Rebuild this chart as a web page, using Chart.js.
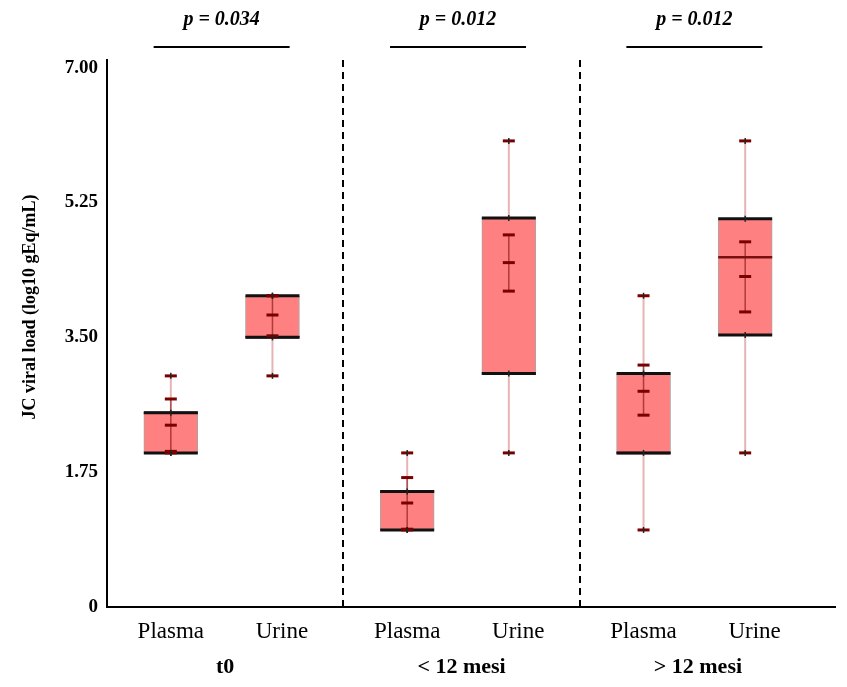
<!DOCTYPE html>
<html>
<head>
<meta charset="utf-8">
<script src="https://cdn.jsdelivr.net/npm/chart.js@4.4.1/dist/chart.umd.min.js"></script>
<style>
  html, body { margin: 0; padding: 0; background: #fff; }
</style>
</head>
<body>
<canvas id="boxChart" width="847" height="687"></canvas>
<script>
// Data (log10 gEq/mL)
const groups = ['t0', '< 12 mesi', '> 12 mesi'];
const sampleTypes = ['Plasma', 'Urine'];
const pValues = ['p = 0.034', 'p = 0.012', 'p = 0.012'];
const yTicks = [0, 1.75, 3.5, 5.25, 7];

// order: t0 Plasma, t0 Urine, <12 Plasma, <12 Urine, >12 Plasma, >12 Urine
const mins    = [2.00, 3.00, 1.00, 2.00, 1.00, 2.00];
const q1s     = [2.00, 3.50, 1.00, 3.03, 2.00, 3.53];
const medians = [2.52, 3.50, 1.50, 3.03, 2.00, 4.54];
const q3s     = [2.52, 4.04, 1.50, 5.05, 3.03, 5.04];
const maxs    = [3.00, 4.04, 2.00, 6.05, 4.04, 6.05];
const means   = [2.36, 3.79, 1.35, 4.47, 2.80, 4.29];
const ciLow   = [2.02, 3.52, 1.01, 4.10, 2.49, 3.83];
const ciHigh  = [2.70, 4.04, 1.68, 4.83, 3.14, 4.74];

// layout: each group takes one unit on the x scale
const boxOffset = [0.27, 0.70];
const labelOffset = [0.27, 0.74];
const xPos = mins.map((_, i) => Math.floor(i / 2) + boxOffset[i % 2]);

const serif = '"Liberation Serif", "Times New Roman", serif';

function pts(arrs) {
  const out = [];
  xPos.forEach((x, i) => arrs.forEach(a => out.push({ x, y: a[i] })));
  return out;
}
function segs(lo, hi) {
  const out = [];
  xPos.forEach((x, i) => { out.push({ x, y: lo[i] }, { x, y: hi[i] }, { x, y: null }); });
  return out;
}

const whiskerData = [];
xPos.forEach((x, i) => {
  whiskerData.push({ x, y: mins[i] }, { x, y: q1s[i] }, { x, y: null });
  whiskerData.push({ x, y: q3s[i] }, { x, y: maxs[i] }, { x, y: null });
});

// extras: p-value brackets, dashed separators, y title
const extrasPlugin = {
  id: 'extras',
  afterDatasetsDraw(chart) {
    const { ctx, chartArea, scales: { x, y } } = chart;
    ctx.save();
    // dashed separators between groups
    ctx.strokeStyle = '#000';
    ctx.lineWidth = 2;
    ctx.setLineDash([7, 5]);
    [1, 2].forEach(v => {
      const px = Math.round(x.getPixelForValue(v));
      ctx.beginPath();
      ctx.moveTo(px, chartArea.top);
      ctx.lineTo(px, chartArea.bottom);
      ctx.stroke();
    });
    ctx.setLineDash([]);
    // p values
    ctx.fillStyle = '#000';
    ctx.textAlign = 'center';
    ctx.textBaseline = 'middle';
    ctx.font = 'italic bold 20px ' + serif;
    pValues.forEach((p, g) => {
      const cx = x.getPixelForValue(g + 0.485);
      ctx.fillText(p, cx, 20);
      ctx.beginPath();
      ctx.lineWidth = 2;
      ctx.moveTo(cx - 68, 47);
      ctx.lineTo(cx + 68, 47);
      ctx.stroke();
    });
    // y axis title
    ctx.translate(30, 307);
    ctx.rotate(-Math.PI / 2);
    ctx.font = 'bold 18px ' + serif;
    ctx.fillText('JC viral load (log10 gEq/mL)', 0, 0);
    ctx.restore();
  }
};

new Chart(document.getElementById('boxChart'), {
  type: 'bar',
  data: {
    datasets: [
      {
        type: 'bar',
        data: xPos.map((x, i) => ({ x, y: [q1s[i], q3s[i]] })),
        backgroundColor: '#ff8080',
        borderColor: 'rgba(0,0,0,0.35)',
        borderWidth: { left: 1, right: 1, top: 0, bottom: 0 },
        borderSkipped: false,
        barThickness: 54,
        order: 10
      },
      {
        type: 'scatter',
        data: whiskerData,
        showLine: true,
        spanGaps: false,
        borderColor: 'rgba(190,70,70,0.4)',
        borderWidth: 2,
        pointRadius: 0,
        order: 9
      },
      {
        type: 'scatter',
        data: segs(ciLow, ciHigh),
        showLine: true,
        spanGaps: false,
        borderColor: 'rgba(110,0,0,0.55)',
        borderWidth: 1.5,
        pointRadius: 0,
        order: 8
      },
      {
        type: 'scatter',
        data: pts([medians]),
        pointStyle: 'line',
        pointRadius: 27,
        pointBorderWidth: 2.5,
        pointBorderColor: '#7a1010',
        order: 6
      },
      {
        type: 'scatter',
        data: pts([q1s, q3s]),
        pointStyle: 'line',
        pointRadius: 27,
        pointBorderWidth: 3,
        pointBorderColor: '#111',
        order: 5
      },
      {
        type: 'scatter',
        data: pts([mins, maxs, means, ciLow, ciHigh]),
        pointStyle: 'line',
        pointRadius: 6,
        pointBorderWidth: 3,
        pointBorderColor: '#7a0000',
        order: 3
      },
      {
        type: 'scatter',
        data: pts([mins, maxs, q1s, q3s]),
        pointStyle: 'line',
        rotation: 90,
        pointRadius: 3,
        pointBorderWidth: 1.5,
        pointBorderColor: '#222',
        order: 1
      }
    ]
  },
  options: {
    responsive: false,
    animation: false,
    events: [],
    layout: { autoPadding: false, padding: { top: 60, right: 12, left: 0, bottom: 0 } },
    plugins: { legend: { display: false }, tooltip: { enabled: false } },
    scales: {
      x: {
        type: 'linear',
        offset: false,
        min: 0,
        max: 3.08,
        grid: { display: false, drawTicks: false },
        border: { display: true, color: '#000', width: 2 },
        afterBuildTicks: s => {
          s.ticks = [];
          groups.forEach((g, gi) => labelOffset.forEach(o => s.ticks.push({ value: gi + o })));
        },
        afterFit: s => { s.height = 42; },
        ticks: {
          padding: 11,
          autoSkip: false,
          maxRotation: 0,
          color: '#000',
          font: { family: serif, size: 23 },
          callback: (v, i) => sampleTypes[i % 2]
        }
      },
      x2: {
        type: 'linear',
        position: 'bottom',
        offset: false,
        min: 0,
        max: 3.08,
        grid: { display: false, drawTicks: false },
        border: { display: false },
        afterBuildTicks: s => { s.ticks = groups.map((g, gi) => ({ value: gi + 0.5 })); },
        afterFit: s => { s.height = 38; },
        ticks: {
          padding: 5,
          autoSkip: false,
          maxRotation: 0,
          color: '#000',
          font: { family: serif, size: 22, weight: 'bold' },
          callback: (v, i) => groups[i]
        }
      },
      y: {
        min: 0,
        max: 7.1,
        grid: { display: false, drawTicks: false },
        border: { display: true, color: '#000', width: 2 },
        afterBuildTicks: s => { s.ticks = yTicks.map(v => ({ value: v })); },
        afterFit: s => { s.width = 107; },
        ticks: {
          padding: 9,
          color: '#000',
          font: { family: serif, size: 19, weight: 'bold' },
          callback: v => v === 0 ? '0' : v.toFixed(2)
        }
      }
    }
  },
  plugins: [extrasPlugin]
});
</script>
</body>
</html>
